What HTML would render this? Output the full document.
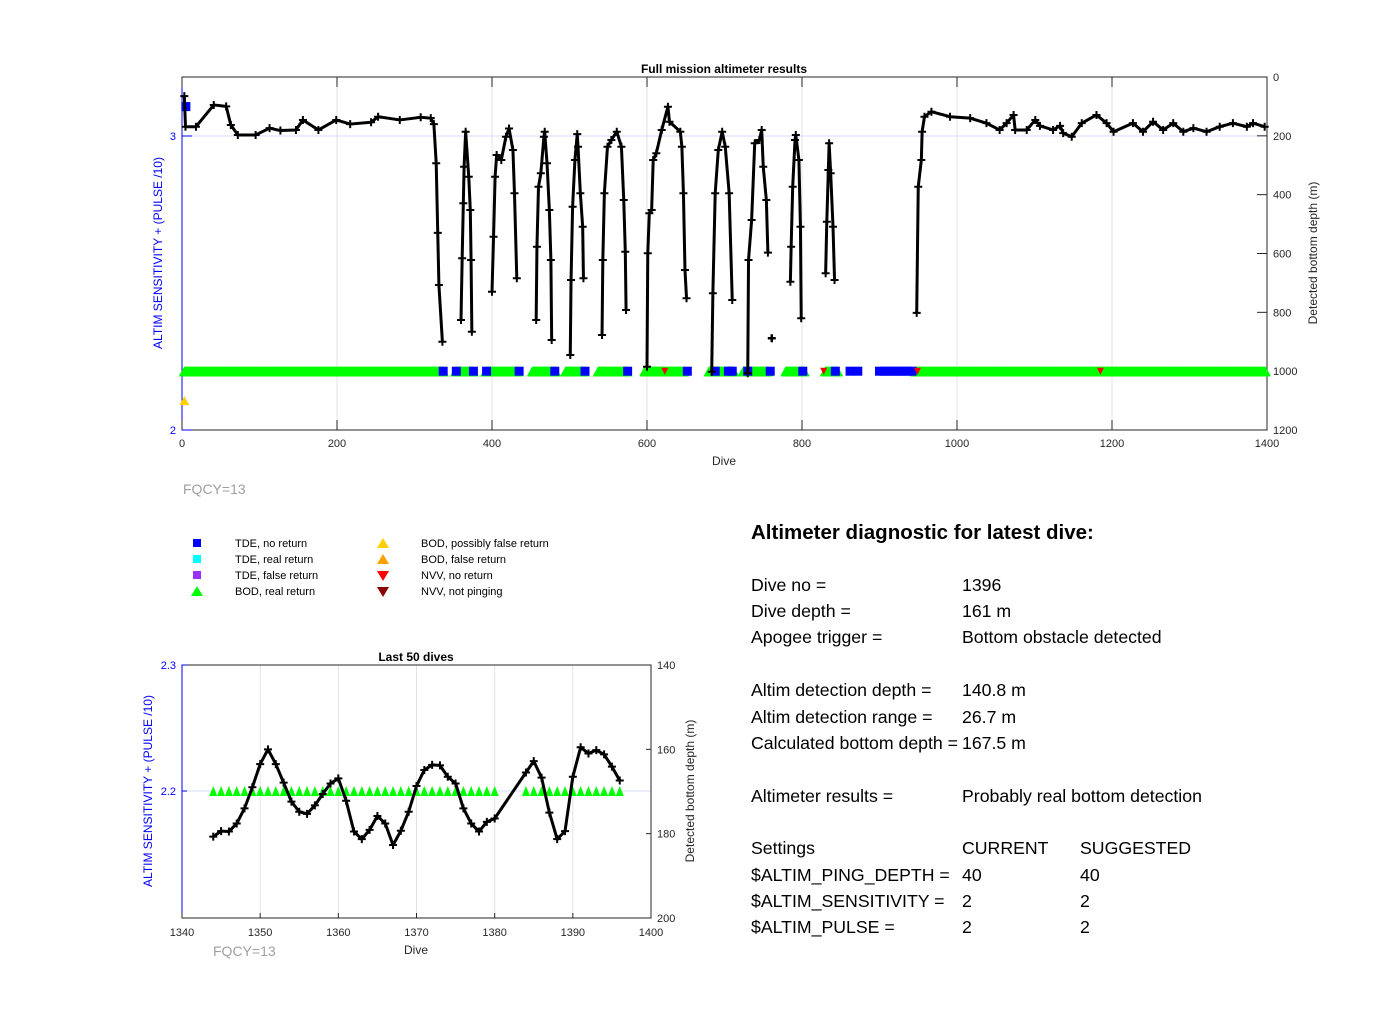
<!DOCTYPE html>
<html><head><meta charset="utf-8"><style>
html,body{margin:0;padding:0;background:#fff;}
svg{display:block;font-family:"Liberation Sans",Arial,sans-serif;}
</style></head><body>
<svg id="fig" width="1400" height="1032" viewBox="0 0 1400 1032" xmlns="http://www.w3.org/2000/svg">
<g id="topchart"></g>
<g id="botchart"></g>
<g id="legend"></g>
<g id="diag" font-size="17.7" fill="#000">
<text x="751" y="539" font-size="20.5" font-weight="bold">Altimeter diagnostic for latest dive:</text>
<text x="751" y="591">Dive no =</text><text x="962" y="591">1396</text>
<text x="751" y="617">Dive depth =</text><text x="962" y="617">161 m</text>
<text x="751" y="643">Apogee trigger =</text><text x="962" y="643">Bottom obstacle detected</text>
<text x="751" y="696">Altim detection depth =</text><text x="962" y="696">140.8 m</text>
<text x="751" y="723">Altim detection range =</text><text x="962" y="723">26.7 m</text>
<text x="751" y="749">Calculated bottom depth =</text><text x="962" y="749">167.5 m</text>
<text x="751" y="802">Altimeter results =</text><text x="962" y="802">Probably real bottom detection</text>
<text x="751" y="854">Settings</text><text x="962" y="854">CURRENT</text><text x="1080" y="854">SUGGESTED</text>
<text x="751" y="881">$ALTIM_PING_DEPTH =</text><text x="962" y="881">40</text><text x="1080" y="881">40</text>
<text x="751" y="907">$ALTIM_SENSITIVITY =</text><text x="962" y="907">2</text><text x="1080" y="907">2</text>
<text x="751" y="933">$ALTIM_PULSE =</text><text x="962" y="933">2</text><text x="1080" y="933">2</text>
</g>
</svg>
<script>
// ---------- top chart data ----------
const topDives = [3,4.5,18,41,57,63,72,95,113,127,147,156,176,199,217,244,253,281,308,321,325,328,330,331.5,336,null,
360,361.5,363,364,366,370,372,373,374,null,
400,402,404,406,412,418,422,427,429,432,null,
457,458,460,463,467,468,471,474,476,477,null,
501,502,504,507,510,511,514,517,518,null,
542,543,545,549,554,561,567,570,572,573,null,
600,601,603,606,608,612,619,627,629,643,645,647,649,651,null,
683.5,685,688,692,697,701,706,710,null,
730,731,735,739,745,748,750,754,756,null,
785,786,788,791,792,796,798,799,null,
830.5,832,834,835,837,840,842,null,
948,950,954,955,958,967,991,1017,1038,1055,1064,1073,1075,1090,1101,1107,1124,1133,1137,1148,1161,1180,1193,1202,1227,1240,1253,1266,1279,1292,1305,1322,1339,1356,1374,1382,1397];
const topDepths = [65,169,169,95,100,163,197,197,174,182,180,146,180,146,160,154,135,146,137,140,160,293,530,707,900,null,
826,616,429,305,186,339,452,622,866,null,
730,543,339,265,282,203,175,248,395,684,null,
826,577,373,327,203,186,293,452,622,894,null,
945,690,441,282,194,237,395,509,684,null,
877,622,395,237,214,186,237,418,594,792,null,
985,599,463,452,282,259,180,101,152,186,237,395,656,752,null,
1002,735,395,248,186,237,395,758,null,
1007,622,486,225,214,180,305,418,597,null,
696,577,373,214,197,282,509,820,null,
667,492,316,225,327,509,690,null,
802,373,282,186,135,118,135,140,157,180,157,129,180,180,146,166,180,166,191,203,157,129,157,186,157,186,152,180,157,186,174,186,169,157,169,157,169];
const isolatedDives = [761];
const isolatedDepths = [888];
const bodRuns = [[3,337],[353,376],[392,434],[452,482],[495,519],[537,574],[597,648],[680,712],[724,756],[779,803],[830,846],[946,1398]];
const tdeNoReturnDives = [5,337,354,376,393,435,481,520,575,652,688,705,710,730,759,801,843,862,872,900,906,912,918,924,930,936,942];
const tdeNoReturnValues = [3.1,2.2,2.2,2.2,2.2,2.2,2.2,2.2,2.2,2.2,2.2,2.2,2.2,2.2,2.2,2.2,2.2,2.2,2.2,2.2,2.2,2.2,2.2,2.2,2.2,2.2,2.2];
const bodPossiblyFalseDives = [3];
const bodPossiblyFalseValues = [2.1];
const nvvNoReturnDives = [623,828,949,1185];
const xTicksTop = [0,200,400,600,800,1000,1200,1400];
const depthTicksTop = [0,200,400,600,800,1000,1200];
const leftTicksTop = [2,3];

// ---------- bottom chart data ----------
const botDives = [1344,1345,1346,1347,1348,1349,1350,1351,1352,1353,1354,1355,1356,1357,1358,1359,1360,1361,1362,1363,1364,1365,1366,1367,1368,1369,1370,1371,1372,1373,1374,1375,1376,1377,1378,1379,1380,1384,1385,1386,1387,1388,1389,1390,1391,1392,1393,1394,1395,1396];
const botDepths = [180.7,179.4,179.5,177.6,174,169,163.5,160,163.5,167.9,172.4,174.8,175.3,173.3,170.6,168.1,166.9,172.2,179.5,181.3,179.1,175.8,177.6,182.7,179.3,174.8,168.7,164.9,163.7,163.8,166.5,168.1,174,177.6,179.5,177.2,176.4,165.5,162.8,166.7,175,181.3,179.4,166.5,159.5,161,160.2,161.2,164.1,167.4];
const botBodRuns = [[1344,1380],[1384,1396]];
const xTicksBot = [1340,1350,1360,1370,1380,1390,1400];
const depthTicksBot = [140,160,180,200];
const leftTicksBot = ["2.3","2.2"];

const NS = "http://www.w3.org/2000/svg";
function mk(parent, tag, attrs, text){
  const e = document.createElementNS(NS, tag);
  for (const k in attrs) e.setAttribute(k, attrs[k]);
  if (text !== undefined) e.textContent = text;
  parent.appendChild(e);
  return e;
}
function triUp(parent, cx, cy, w, h, color){
  return mk(parent,'polygon',{points:`${cx-w/2},${cy+h/2} ${cx+w/2},${cy+h/2} ${cx},${cy-h/2}`,fill:color});
}
function triDown(parent, cx, cy, w, h, color){
  return mk(parent,'polygon',{points:`${cx-w/2},${cy-h/2} ${cx+w/2},${cy-h/2} ${cx},${cy+h/2}`,fill:color});
}
function plus(parent, x, y, s, sw){
  return mk(parent,'path',{d:`M${x-s},${y}H${x+s}M${x},${y-s}V${y+s}`,stroke:'#000','stroke-width':sw,fill:'none'});
}

// ---------- top axes ----------
const T = {x0:182, x1:1267, y0:77, y1:430};
const xT = d => T.x0 + d*(T.x1-T.x0)/1400;
const yTd = m => T.y0 + m*(T.y1-T.y0)/1200;
const yTl = v => T.y1 - (v-2)*294;
const topG = document.getElementById('topchart');
let t1;

xTicksTop.forEach(t => {
  if (t>0 && t<1400) {
    const g = mk(topG,'line',{x1:xT(t),x2:xT(t),y1:T.y0,y2:T.y1,stroke:'#e3e3e3','stroke-width':1});
    
    
  }
});
const hg = mk(topG,'line',{x1:T.x0,x2:T.x1,y1:yTl(3),y2:yTl(3),stroke:'#d8d8ff','stroke-width':1});


const frame = mk(topG,'rect',{x:T.x0,y:T.y0,width:T.x1-T.x0,height:T.y1-T.y0,fill:'none',stroke:'#262626','stroke-width':1});


const la = mk(topG,'line',{x1:T.x0,x2:T.x0,y1:T.y0,y2:T.y1,stroke:'#0000ff','stroke-width':1});


xTicksTop.forEach(t => {
  mk(topG,'line',{x1:xT(t),x2:xT(t),y1:T.y1,y2:T.y1-10,stroke:'#262626'});
  mk(topG,'line',{x1:xT(t),x2:xT(t),y1:T.y0,y2:T.y0+10,stroke:'#262626'});
  const tx = mk(topG,'text',{x:xT(t),y:T.y1+17,'text-anchor':'middle','font-size':11,fill:'#262626'},String(t));
  
  
});
depthTicksTop.forEach(t => {
  mk(topG,'line',{x1:T.x1,x2:T.x1-10,y1:yTd(t),y2:yTd(t),stroke:'#262626'});
  const tx = mk(topG,'text',{x:T.x1+6,y:yTd(t)+4,'font-size':11,fill:'#262626'},String(t));
  
  
});
leftTicksTop.forEach(t => {
  mk(topG,'line',{x1:T.x0,x2:T.x0+10,y1:yTl(t),y2:yTl(t),stroke:'#0000ff'});
  const tx = mk(topG,'text',{x:T.x0-6,y:yTl(t)+4,'text-anchor':'end','font-size':11,fill:'#0000ff'},String(t));
  
  
});
t1 = mk(topG,'text',{x:724,y:73,'text-anchor':'middle','font-size':12,'font-weight':'bold'},'Full mission altimeter results');


t1 = mk(topG,'text',{x:724,y:465,'text-anchor':'middle','font-size':12,fill:'#262626'},'Dive');


t1 = mk(topG,'text',{x:0,y:0,transform:'translate(162,253) rotate(-90)','text-anchor':'middle','font-size':12,fill:'#0000ff'},'ALTIM SENSITIVITY + (PULSE /10)');


t1 = mk(topG,'text',{x:0,y:0,transform:'translate(1317,253) rotate(-90)','text-anchor':'middle','font-size':12,fill:'#262626'},'Detected bottom depth (m)');


t1 = mk(topG,'text',{x:183,y:494,'font-size':14,fill:'#a0a0a0'},'FQCY=13');



bodRuns.forEach(r => {
  for (let d=r[0]; d<=r[1]; d+=1) {
    const p = triUp(topG, xT(d), yTl(2.2), 11, 10, '#00ff00');
    
    
  }
});
tdeNoReturnDives.forEach((d,i) => {
  const s = mk(topG,'rect',{x:xT(d)-4.5,y:yTl(tdeNoReturnValues[i])-4.5,width:9,height:9,fill:'#0000ff'});
  
  
});
bodPossiblyFalseDives.forEach((d,i) => {
  const p = triUp(topG, xT(d), yTl(bodPossiblyFalseValues[i]), 10, 9, '#ffd000');
  
  
});
nvvNoReturnDives.forEach(d => {
  const p = triDown(topG, xT(d), yTl(2.2), 7, 7, '#ff0000');
  
  
});

let seg = [];
const segs = [];
topDives.forEach((d,i) => {
  if (d === null) { segs.push(seg); seg = []; }
  else seg.push([xT(d), yTd(topDepths[i])]);
});
if (seg.length) segs.push(seg);
segs.forEach(s => {
  const pl = mk(topG,'polyline',{points:s.map(p=>p.join(',')).join(' '),fill:'none',stroke:'#000','stroke-width':3,'stroke-linejoin':'round'});
  
  
  s.forEach(p => {
    const m = plus(topG, p[0], p[1], 4, 2);
    
    
  });
});
isolatedDives.forEach((d,i) => {
  const m = plus(topG, xT(d), yTd(isolatedDepths[i]), 4, 2.5);
  
  
});

// ---------- bottom chart ----------
const B = {x0:182, x1:651, y0:665, y1:918};
const xB = d => B.x0 + (d-1340)*(B.x1-B.x0)/60;
const yBd = m => B.y0 + (m-140)*(B.y1-B.y0)/60;
const yBl = v => 791 - (v-2.2)*1260;
const botG = document.getElementById('botchart');
xTicksBot.forEach(t => {
  if (t>1340 && t<1400) {
    const g = mk(botG,'line',{x1:xB(t),x2:xB(t),y1:B.y0,y2:B.y1,stroke:'#e3e3e3'});
    
    
  }
});
const bg = mk(botG,'line',{x1:B.x0,x2:B.x1,y1:yBl(2.2),y2:yBl(2.2),stroke:'#d8d8ff'});


const bf = mk(botG,'rect',{x:B.x0,y:B.y0,width:B.x1-B.x0,height:B.y1-B.y0,fill:'none',stroke:'#262626'});


const bla = mk(botG,'line',{x1:B.x0,x2:B.x0,y1:B.y0,y2:B.y1,stroke:'#0000ff'});


xTicksBot.forEach(t => {
  mk(botG,'line',{x1:xB(t),x2:xB(t),y1:B.y1,y2:B.y1-5,stroke:'#262626'});
  const tx = mk(botG,'text',{x:xB(t),y:B.y1+18,'text-anchor':'middle','font-size':11,fill:'#262626'},String(t));
  
  
});
depthTicksBot.forEach(t => {
  mk(botG,'line',{x1:B.x1,x2:B.x1-5,y1:yBd(t),y2:yBd(t),stroke:'#262626'});
  const tx = mk(botG,'text',{x:B.x1+6,y:yBd(t)+4,'font-size':11,fill:'#262626'},String(t));
  
  
});
leftTicksBot.forEach(t => {
  const v = parseFloat(t);
  mk(botG,'line',{x1:B.x0,x2:B.x0+5,y1:yBl(v),y2:yBl(v),stroke:'#0000ff'});
  const tx = mk(botG,'text',{x:B.x0-6,y:yBl(v)+4,'text-anchor':'end','font-size':11,fill:'#0000ff'},t);
  
  
});
t1 = mk(botG,'text',{x:416,y:661,'text-anchor':'middle','font-size':12,'font-weight':'bold'},'Last 50 dives');


t1 = mk(botG,'text',{x:416,y:954,'text-anchor':'middle','font-size':12,fill:'#262626'},'Dive');


t1 = mk(botG,'text',{x:0,y:0,transform:'translate(152,791) rotate(-90)','text-anchor':'middle','font-size':12,fill:'#0000ff'},'ALTIM SENSITIVITY + (PULSE /10)');


t1 = mk(botG,'text',{x:0,y:0,transform:'translate(694,791) rotate(-90)','text-anchor':'middle','font-size':12,fill:'#262626'},'Detected bottom depth (m)');


t1 = mk(botG,'text',{x:213,y:956,'font-size':14,fill:'#a0a0a0'},'FQCY=13');


botBodRuns.forEach(r => {
  for (let d=r[0]; d<=r[1]; d++) {
    const p = triUp(botG, xB(d), yBl(2.2), 8, 10, '#00ff00');
    
    
  }
});
const bpl = mk(botG,'polyline',{points:botDives.map((d,i)=>xB(d)+','+yBd(botDepths[i])).join(' '),fill:'none',stroke:'#000','stroke-width':3,'stroke-linejoin':'round'});


botDives.forEach((d,i) => {
  const m = plus(botG, xB(d), yBd(botDepths[i]), 4, 2);
  
  
});

// ---------- legend ----------
const lg = document.getElementById('legend');
const legLeft = [['#0000ff','TDE, no return'],['#00ffff','TDE, real return'],['#9932ff','TDE, false return'],['#00ff00','BOD, real return']];
const legRight = [['#ffd000','BOD, possibly false return','up'],['#ffa000','BOD, false return','up'],['#ff0000','NVV, no return','down'],['#8b0000','NVV, not pinging','down']];
legLeft.forEach((e,i) => {
  const y = 543 + i*16;
  let m;
  if (i<3) m = mk(lg,'rect',{x:193,y:y-4,width:8,height:8,fill:e[0]});
  else m = triUp(lg,197,y,12,10,e[0]);
  
  
  const t = mk(lg,'text',{x:235,y:y+4,'font-size':11,fill:'#000'},e[1]);
  
  
});
legRight.forEach((e,i) => {
  const y = 543 + i*16;
  const m = e[2]==='up' ? triUp(lg,383,y,12,10,e[0]) : triDown(lg,383,y+1,12,10,e[0]);
  
  
  const t = mk(lg,'text',{x:421,y:y+4,'font-size':11,fill:'#000'},e[1]);
  
  
});
</script>
</body></html>
